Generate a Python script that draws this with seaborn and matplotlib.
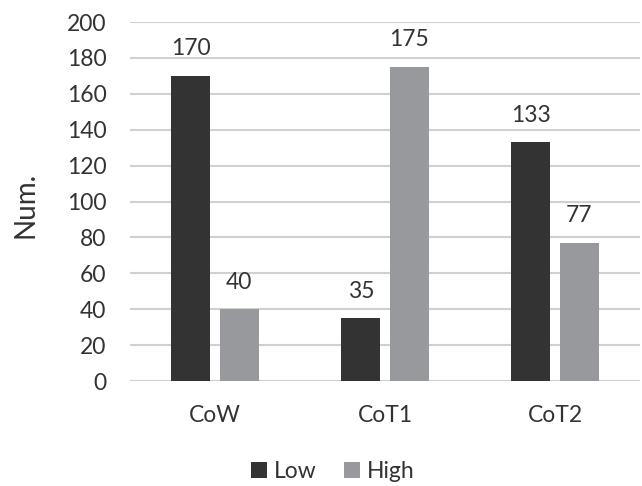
import matplotlib
matplotlib.use("Agg")
import matplotlib.pyplot as plt
import seaborn as sns
import pandas as pd
from matplotlib.patches import Patch

categories = ["CoW", "CoT1", "CoT2"]
series_names = ["Low", "High"]
low_values = [170, 35, 133]
high_values = [40, 175, 77]
y_ticks = [0, 20, 40, 60, 80, 100, 120, 140, 160, 180, 200]

colors = {"Low": "#333333", "High": "#98999c"}
text_color = "#333333"
fs = 16.5

sns.set_theme(style="white")
plt.rcParams["font.family"] = ["Lato", "DejaVu Sans"]

df = pd.DataFrame({
    "category": categories * 2,
    "series": ["Low"] * len(categories) + ["High"] * len(categories),
    "value": low_values + high_values,
})

fig = plt.figure(figsize=(6.42, 4.86), dpi=100)
ax = fig.add_axes([0.2025, 0.216, 0.7945, 0.7387])

sns.barplot(data=df, x="category", y="value", hue="series",
            hue_order=series_names, palette=colors, width=0.57, gap=0.19,
            order=categories, ax=ax, legend=False, linewidth=0, saturation=1)

ax.set_ylim(0, 200)
ax.set_xlim(-0.5, 2.5)
ax.set_yticks(y_ticks)
ax.set_axisbelow(True)
ax.yaxis.grid(True, color="#d0d0d0", linewidth=1.5)
ax.xaxis.grid(False)
for s in ax.spines.values():
    s.set_visible(False)

ax.tick_params(axis="y", length=0, pad=17, labelsize=fs, labelcolor=text_color)
ax.tick_params(axis="x", length=0, pad=17, labelsize=fs, labelcolor=text_color)
ax.set_xlabel("")
ax.set_ylabel("Num.", fontsize=20, color=text_color)
ax.yaxis.set_label_coords(-0.18, 0.49)

for cont in ax.containers:
    ax.bar_label(cont, fmt="%d", padding=12, fontsize=fs, color=text_color)

handles = [Patch(facecolor=colors[n], edgecolor="none", label=n) for n in series_names]
fig.legend(handles=handles, loc="center", bbox_to_anchor=(0.519, 0.03), ncol=2,
           frameon=False, fontsize=fs, handlelength=0.7, handleheight=0.7,
           handletextpad=0.3, columnspacing=1.2, labelcolor=text_color,
           borderpad=0, borderaxespad=0)

fig.savefig("out.png", dpi=100)
